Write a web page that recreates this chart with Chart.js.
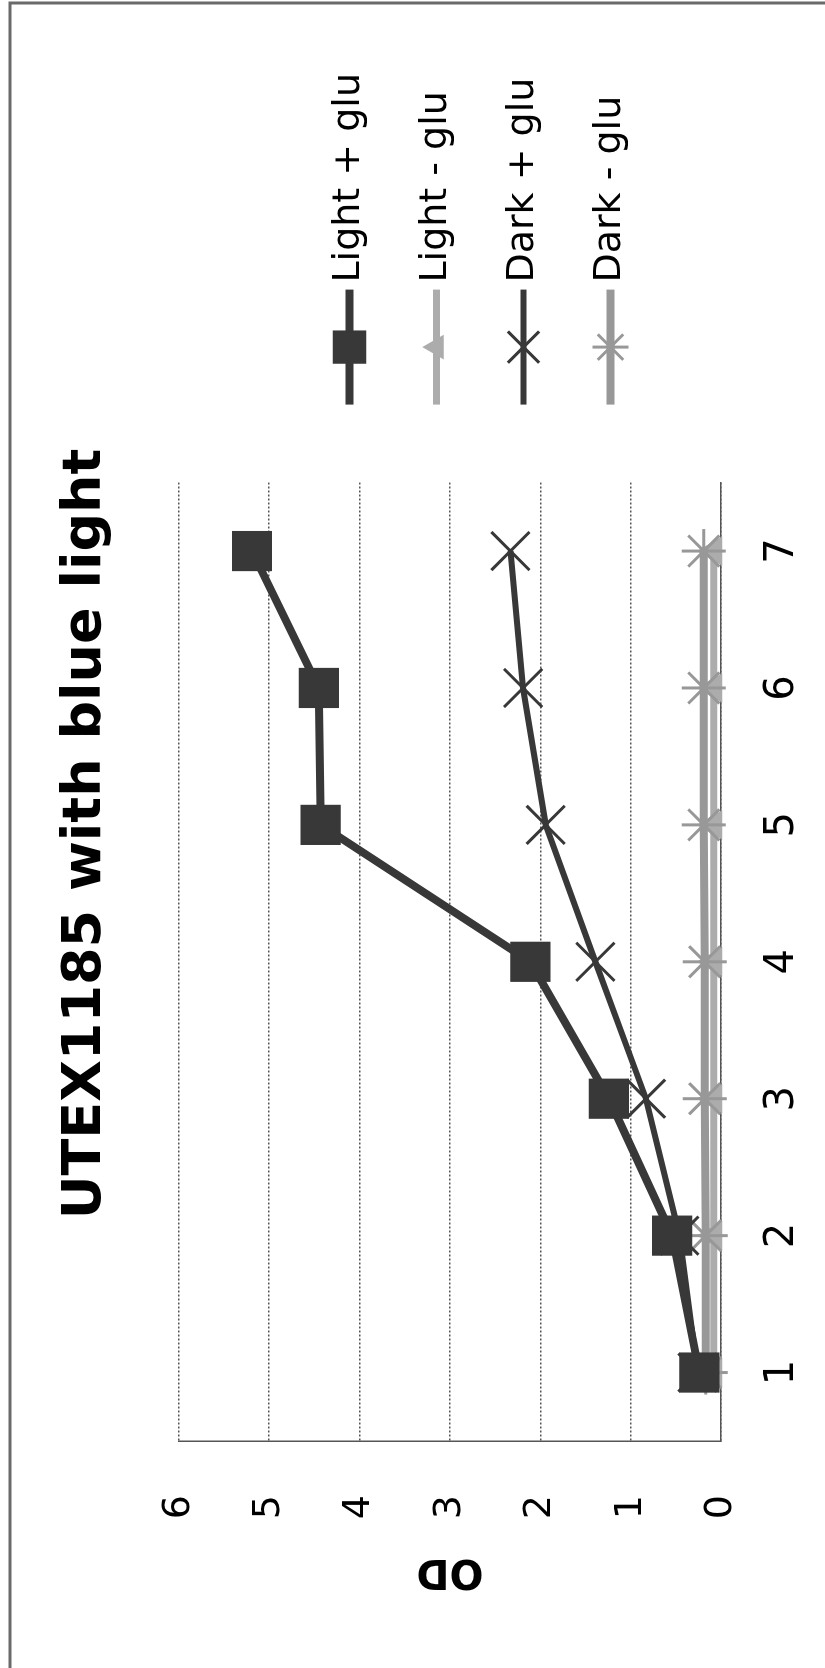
<!DOCTYPE html>
<html>
<head>
<meta charset="utf-8">
<script src="https://cdn.jsdelivr.net/npm/chart.js@4.4.1/dist/chart.umd.min.js"></script>
<style>
  html, body { margin: 0; padding: 0; background: #fff; width: 825px; height: 1668px; overflow: hidden; }
  /* the chart is laid out landscape and turned a quarter turn counter-clockwise */
  #wrap { position: absolute; left: 0; top: 0; width: 1668px; height: 960px;
          transform-origin: 0 0; transform: translate(0, 1668px) rotate(-90deg); }
  canvas { display: block; }
</style>
</head>
<body>
<div id="wrap"><canvas id="chart" width="1668" height="960"></canvas></div>
<script>
// Growth of UTEX1185 (OD) per day under blue light / dark, with and without glucose
const days = ['1', '2', '3', '4', '5', '6', '7'];
const seriesNames = ['Light + glu', 'Light - glu', 'Dark + glu', 'Dark - glu'];
const lightGlu   = [0.24, 0.54, 1.24, 2.11, 4.43, 4.45, 5.19];
const lightNoGlu = [0.08, 0.08, 0.08, 0.08, 0.08, 0.08, 0.08];
const darkGlu    = [0.26, 0.46, 0.83, 1.39, 1.94, 2.19, 2.33];
const darkNoGlu  = [0.17, 0.17, 0.18, 0.18, 0.19, 0.19, 0.19];
const odMin = 0, odMax = 6, odStep = 1;

const FONT = "'DejaVu Sans', 'Verdana', sans-serif";
const SAMPLE_LEN = 115;

function series(label, data, color, style, radius, lineW, markW, order) {
  return {
    label, data, order,
    borderColor: color, backgroundColor: color,
    borderWidth: lineW, tension: 0, fill: false, clip: false,
    pointStyle: style, pointRadius: radius, pointHoverRadius: radius,
    pointBackgroundColor: color, pointBorderColor: color,
    pointBorderWidth: markW
  };
}

// outer frame of the figure
const frame = {
  id: 'frame',
  beforeDraw(chart) {
    const ctx = chart.ctx;
    ctx.save();
    ctx.strokeStyle = '#6a6a6a';
    ctx.lineWidth = 3;
    ctx.beginPath();
    ctx.moveTo(0, 10);
    ctx.lineTo(1665, 10);
    ctx.lineTo(1665, chart.height);
    ctx.stroke();
    ctx.restore();
  }
};

// legend samples: a short line with the series marker in its middle
const legendSamples = {
  id: 'legendSamples',
  afterDraw(chart) {
    const lg = chart.legend;
    if (!lg || !lg.legendHitBoxes) return;
    const ctx = chart.ctx;
    lg.legendItems.forEach((item, i) => {
      const hb = lg.legendHitBoxes[i];
      const ds = chart.data.datasets[item.datasetIndex];
      const x0 = hb.left;
      const cy = hb.top + hb.height / 2;
      ctx.save();
      ctx.strokeStyle = ds.borderColor;
      ctx.lineWidth = ds.borderWidth;
      ctx.beginPath();
      ctx.moveTo(x0, cy);
      ctx.lineTo(x0 + SAMPLE_LEN, cy);
      ctx.stroke();
      ctx.fillStyle = ds.pointBackgroundColor;
      ctx.strokeStyle = ds.pointBorderColor;
      ctx.lineWidth = ds.pointBorderWidth;
      Chart.helpers.drawPoint(ctx, {
        pointStyle: ds.pointStyle, rotation: 0,
        radius: ds.pointRadius * 0.82, borderWidth: ds.pointBorderWidth
      }, x0 + SAMPLE_LEN / 2, cy);
      ctx.restore();
    });
  }
};

new Chart(document.getElementById('chart'), {
  type: 'line',
  data: {
    labels: days,
    datasets: [
      series(seriesNames[0], lightGlu,   '#383838', 'rect',     27, 8, 2, 0),
      series(seriesNames[1], lightNoGlu, '#acacac', 'triangle', 15, 7, 2, 1),
      series(seriesNames[2], darkGlu,    '#383838', 'crossRot', 27, 6, 3, 0),
      series(seriesNames[3], darkNoGlu,  '#989898', 'star',     22, 8, 3, 0)
    ]
  },
  options: {
    responsive: false,
    maintainAspectRatio: false,
    devicePixelRatio: 1,
    animation: false,
    events: [],
    layout: { padding: { left: 63, right: 63, top: 0, bottom: 0 } },
    plugins: {
      tooltip: { enabled: false },
      title: {
        display: true,
        text: 'UTEX1185 with blue light',
        color: '#000',
        font: { family: FONT, size: 54, weight: 'bold' },
        padding: { top: 54, bottom: 60 }
      },
      legend: {
        position: 'right',
        align: 'center',
        labels: {
          color: '#000',
          font: { family: FONT, size: 38 },
          boxWidth: 103,
          boxHeight: 47,
          padding: 40,
          generateLabels(chart) {
            return Chart.defaults.plugins.legend.labels.generateLabels(chart)
              .sort((a, b) => a.datasetIndex - b.datasetIndex)
              .map(l => Object.assign(l, { fillStyle: 'rgba(0,0,0,0)', strokeStyle: 'rgba(0,0,0,0)', lineWidth: 0 }));
          }
        }
      }
    },
    scales: {
      x: {
        type: 'category',
        offset: true,
        grid: { display: false },
        border: { display: true, color: '#555', width: 1.5 },
        ticks: { color: '#000', font: { family: FONT, size: 40 }, padding: 30 },
        afterFit(s) { s.height = 239; }
      },
      y: {
        min: odMin, max: odMax,
        grid: { color: '#555', lineWidth: 1.5, drawTicks: false },
        border: { display: true, color: '#555', width: 1.5, dash: [2, 2] },
        ticks: { stepSize: odStep, color: '#000', font: { family: FONT, size: 38 }, padding: 54 },
        title: {
          display: true, text: 'OD', color: '#000',
          font: { family: FONT, size: 40, weight: 'bold' },
          padding: { top: 11, bottom: 0 }
        },
        afterFit(s) { s.width = 164; }
      },
      // empty spacer between the plot and the legend
      gap: {
        type: 'linear',
        position: 'right',
        display: false,
        afterFit(s) { s.width = 38; }
      }
    }
  },
  plugins: [frame, legendSamples]
});
</script>
</body>
</html>
